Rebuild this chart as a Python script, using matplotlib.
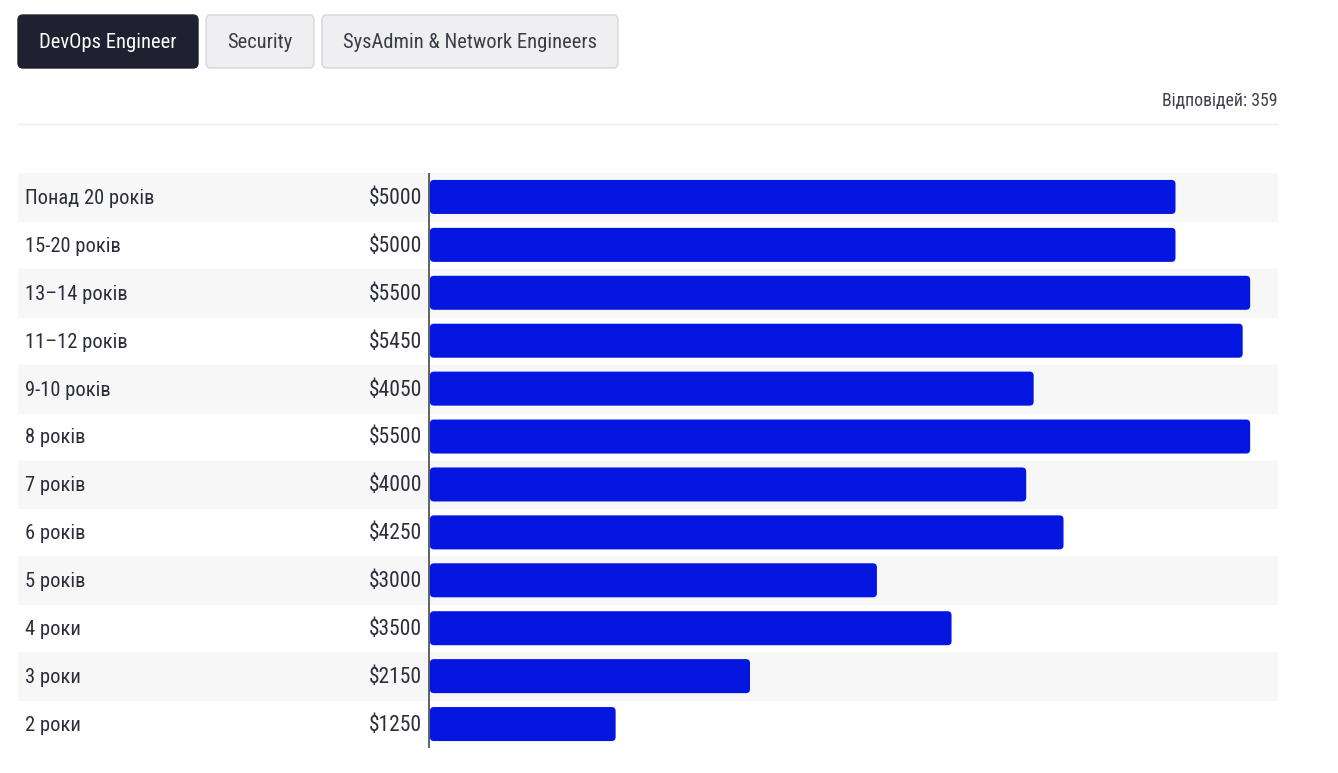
import matplotlib
matplotlib.use("Agg")
from matplotlib import pyplot as plt
from matplotlib.patches import FancyBboxPatch

plt.rcParams['font.family'] = ['Roboto Condensed', 'Liberation Sans Narrow', 'Roboto', 'DejaVu Sans']

''' Data read from the chart.'''

categories = ["Понад 20 років", "15-20 років", "13–14 років", "11–12 років", "9-10 років",
              "8 років", "7 років", "6 років", "5 років", "4 роки", "3 роки", "2 роки"]
salaries = [5000, 5000, 5500, 5450, 4050, 5500, 4000, 4250, 3000, 3500, 2150, 1250]
tabs = ["DevOps Engineer", "Security", "SysAdmin & Network Engineers"]
responses = "Відповідей: 359"

W, H = 1338, 773
fig = plt.figure(figsize=(W / 100, H / 100), dpi=100)

''' Overlay axes in pixel coordinates for the header.'''

top = fig.add_axes([0, 0, 1, 1])
top.set_xlim(0, W)
top.set_ylim(H, 0)
top.axis('off')

tab_boxes = [(18, 198), (206, 314), (322, 618)]
for i, (name, (x0, x1)) in enumerate(zip(tabs, tab_boxes)):
    active = i == 0
    box = FancyBboxPatch((x0, 15), x1 - x0, 53, boxstyle="round,pad=0,rounding_size=5",
                         facecolor='#1f2130' if active else '#efeff1',
                         edgecolor='#1f2130' if active else '#d6d6da', linewidth=1)
    top.add_patch(box)
    top.text((x0 + x1) / 2, 42.5, name, ha='center', va='center', fontsize=14.8,
             color='white' if active else '#3a3c48')

top.text(1278, 101, responses, ha='right', va='center', fontsize=12.8, color='#3e404a')
top.plot([18, 1278], [124, 124], color='#ececec', linewidth=1)

''' Main bar chart.'''

px = 0.1493  # pixels per dollar
left_px, right_px, zero_px = 18, 1278, 429
ax = fig.add_axes([left_px / W, 25 / H, (right_px - left_px) / W, 575 / H])
ax.set_xlim(-(zero_px - left_px) / px, (right_px - zero_px) / px)
ax.set_ylim(len(categories) - 0.5, -0.5)
ax.axis('off')

bar_h = 0.71
rx = 4 / px
ry = 4 / 47.9
for i, (cat, val) in enumerate(zip(categories, salaries)):
    if i % 2 == 0:
        ax.axhspan(i - 0.5, i + 0.5, color='#f7f7f7', zorder=0)
    bar = FancyBboxPatch((6, i - bar_h / 2), val - 6, bar_h,
                         boxstyle="round,pad=0,rounding_size=%f" % rx,
                         mutation_aspect=ry / rx,
                         facecolor='#0416e0', edgecolor='none', zorder=2)
    ax.add_patch(bar)
    ax.text(-(zero_px - 25) / px, i + 0.03, cat, ha='left', va='center', fontsize=14.8,
            color='#2b2d3a')
    ax.text(-7 / px, i + 0.03, "$%d" % val, ha='right', va='center', fontsize=15.5,
            color='#2b2d3a')

ax.axvline(0, color='#555555', linewidth=1.3, zorder=3)

fig.savefig("out.png", dpi=100)
